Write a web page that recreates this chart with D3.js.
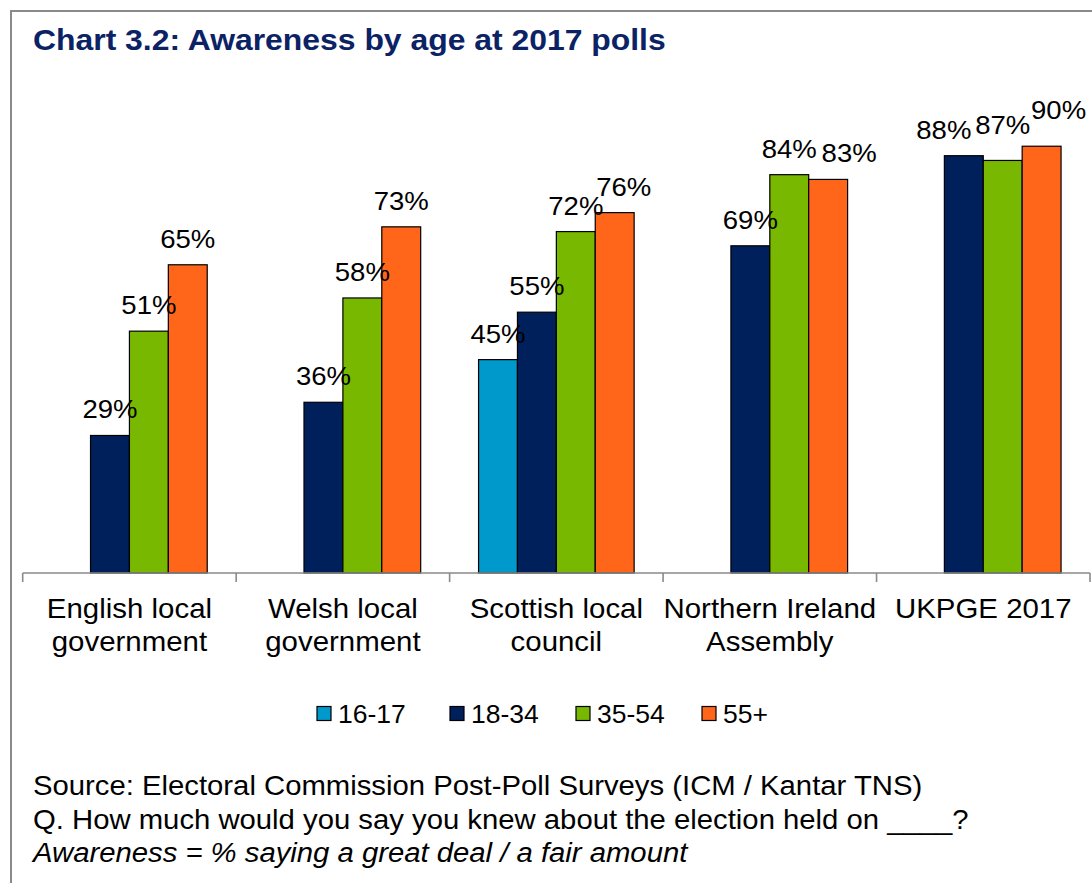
<!DOCTYPE html>
<html>
<head>
<meta charset="utf-8">
<script src="https://cdn.jsdelivr.net/npm/d3@7"></script>
<style>
  html, body { margin: 0; padding: 0; background: #fff; }
  svg { display: block; }
  text { font-family: "Liberation Sans", Arial, sans-serif; fill: #000; }
</style>
</head>
<body>
<svg id="chart" width="1092" height="883"></svg>
<script>
// Polls and their two-line axis labels
const categories = ["English local government", "Welsh local government", "Scottish local council", "Northern Ireland Assembly", "UKPGE 2017"];
const categoryLines = [["English local", "government"], ["Welsh local", "government"], ["Scottish local", "council"], ["Northern Ireland", "Assembly"], ["UKPGE 2017"]];

// Age groups
const series = ["16-17", "18-34", "35-54", "55+"];

// Awareness (%) per age group, one value per poll (null = not surveyed)
const aware1617 = [null, null, 45, null, null];
const aware1834 = [29, 36, 55, 69, 88];
const aware3554 = [51, 58, 72, 84, 87];
const aware55plus = [65, 73, 76, 83, 90];

const seriesColors = ["#0099CC", "#00205B", "#78B800", "#FF661A"];

const values = [aware1617, aware1834, aware3554, aware55plus];

// Small offsets for data labels that would otherwise collide
const labelNudge = {
  "2|55+": [9, 0],
  "3|55+": [21, 0],
  "4|18-34": [-20, 0],
  "4|35-54": [0, -9],
  "4|55+": [17, -10]
};

const svg = d3.select("#chart");

// Helper: text with slight horizontal stretch
function addText(parent, x, y, str, opts) {
  const o = Object.assign({ size: 27, sx: 1, anchor: "start", weight: "normal", style: "normal", fill: "#000" }, opts || {});
  return parent.append("text")
    .attr("transform", `translate(${x},${y}) scale(${o.sx},1)`)
    .attr("text-anchor", o.anchor)
    .style("font-size", o.size + "px")
    .style("font-weight", o.weight)
    .style("font-style", o.style)
    .style("fill", o.fill)
    .text(str);
}

// Outer frame
svg.append("rect")
  .attr("x", 11).attr("y", 11)
  .attr("width", 1100).attr("height", 900)
  .attr("fill", "none")
  .attr("stroke", "#8A8A8A")
  .attr("stroke-width", 2);

// Title
addText(svg, 33, 50, "Chart 3.2: Awareness by age at 2017 polls", { size: 29, weight: "bold", fill: "#0B2265", sx: 1.1 });

// Scales
const x0 = d3.scaleBand().domain(categories).range([22.7, 1090]).paddingInner(0).paddingOuter(0);
const x1 = d3.scaleBand().domain(series).range([0, x0.bandwidth()]).paddingInner(0).paddingOuter(0.744);
const y = d3.scaleLinear().domain([0, 100]).range([573, 98.8]);
const color = d3.scaleOrdinal().domain(series).range(seriesColors);

// Flattened bar records
const bars = [];
categories.forEach((c, ci) => {
  series.forEach((s, si) => {
    const v = values[si][ci];
    if (v != null) bars.push({ c, ci, s, v });
  });
});

// Bars
svg.append("g").selectAll("rect")
  .data(bars)
  .join("rect")
  .attr("x", d => x0(d.c) + x1(d.s))
  .attr("y", d => y(d.v))
  .attr("width", x1.bandwidth())
  .attr("height", d => y(0) - y(d.v))
  .attr("fill", d => color(d.s))
  .attr("stroke", "#000")
  .attr("stroke-width", 1.2);

// Category axis: baseline and boundary ticks
const axis = svg.append("g");
axis.append("line")
  .attr("x1", x0.range()[0]).attr("x2", x0.range()[1])
  .attr("y1", y(0)).attr("y2", y(0))
  .attr("stroke", "#8A8A8A").attr("stroke-width", 1.6);
const boundaries = categories.map(c => x0(c)).concat([x0.range()[1]]);
axis.selectAll("line.tick")
  .data(boundaries)
  .join("line")
  .attr("class", "tick")
  .attr("x1", d => d).attr("x2", d => d)
  .attr("y1", y(0)).attr("y2", y(0) + 9)
  .attr("stroke", "#8A8A8A").attr("stroke-width", 1.6);

// Category labels
categories.forEach((c, i) => {
  const cx = x0(c) + x0.bandwidth() / 2;
  categoryLines[i].forEach((line, li) => {
    addText(svg, cx, 618 + li * 33, line, { size: 27, anchor: "middle", sx: 1.09 });
  });
});

// Data labels
bars.forEach(d => {
  const n = labelNudge[d.ci + "|" + d.s] || [0, 0];
  const cx = x0(d.c) + x1(d.s) + x1.bandwidth() / 2 + n[0];
  addText(svg, cx, y(d.v) - 17 + n[1], d.v + "%", { size: 26, anchor: "middle", sx: 1.06 });
});

// Legend
const legendX = [317, 450, 576, 702];
series.forEach((s, i) => {
  svg.append("rect")
    .attr("x", legendX[i]).attr("y", 706.5)
    .attr("width", 14).attr("height", 14)
    .attr("fill", color(s))
    .attr("stroke", "#000").attr("stroke-width", 1.2);
  addText(svg, legendX[i] + 21, 723, s, { size: 26, sx: 1.02 });
});

// Notes
addText(svg, 33, 795, "Source: Electoral Commission Post-Poll Surveys (ICM / Kantar TNS)", { size: 27.5, sx: 1.065 });
addText(svg, 33, 829, "Q. How much would you say you knew about the election held on ____?", { size: 27.5, sx: 1.065 });
addText(svg, 33, 862, "Awareness = % saying a great deal / a fair amount", { size: 27.5, sx: 1.065, style: "italic" });
</script>
</body>
</html>
